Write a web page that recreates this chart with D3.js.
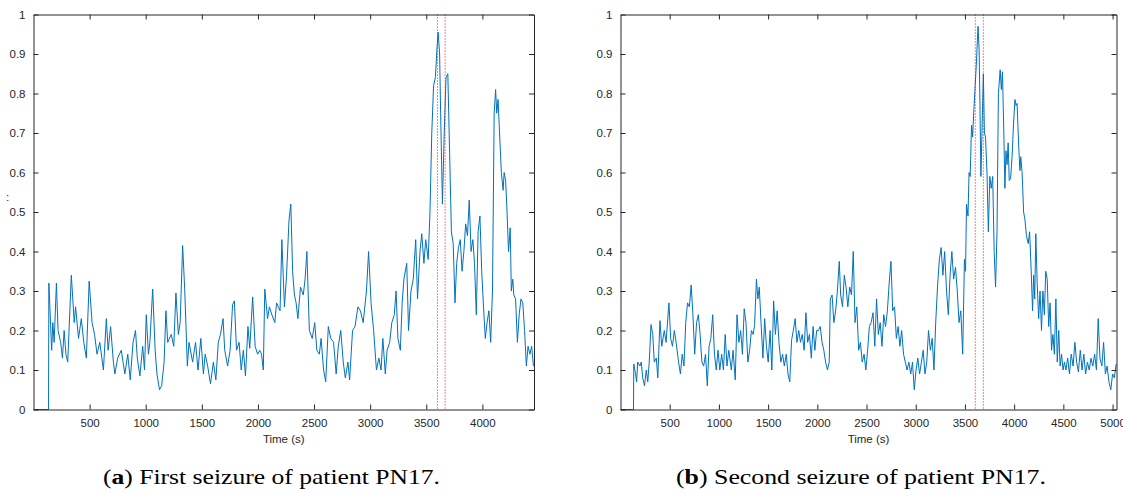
<!DOCTYPE html>
<html>
<head>
<meta charset="utf-8">
<script src="https://cdn.jsdelivr.net/npm/d3@7"></script>
<style>
  body { margin: 0; background: #fff; }
  .tick text { font-family: "Liberation Sans", Arial, sans-serif; font-size: 11.5px; fill: #262626; }
  .axisText { font-family: "Liberation Sans", Arial, sans-serif; font-size: 11.5px; fill: #262626; }
  .caption { font-family: "Liberation Serif", "DejaVu Serif", serif; font-size: 22px; fill: #000; }
</style>
</head>
<body>
<div id="chart"></div>
<script>
// Data: [time (s), value]
var seizure1 = [
  [0, 0], [134, 0], [137, 0.32], [162, 0.15], [172, 0.22], [184, 0.17], [204, 0.32], [219, 0.20],
  [242, 0.17], [258, 0.13], [273, 0.20], [289, 0.14], [305, 0.12], [337, 0.34], [363, 0.22], [375, 0.26],
  [401, 0.18], [426, 0.23], [448, 0.17], [471, 0.13], [496, 0.325], [522, 0.22], [544, 0.19], [566, 0.14],
  [591, 0.17], [623, 0.10], [649, 0.23], [665, 0.15], [687, 0.21], [712, 0.12], [725, 0.09], [750, 0.13],
  [782, 0.15], [814, 0.09], [840, 0.14], [862, 0.075], [887, 0.17], [909, 0.20], [925, 0.13], [948, 0.085],
  [973, 0.16], [989, 0.10], [1005, 0.24], [1024, 0.14], [1037, 0.17], [1062, 0.305], [1084, 0.15], [1100, 0.09],
  [1123, 0.05], [1142, 0.06], [1164, 0.12], [1180, 0.25], [1196, 0.17], [1227, 0.19], [1250, 0.16], [1269, 0.295],
  [1291, 0.19], [1307, 0.22], [1329, 0.415], [1348, 0.30], [1371, 0.11], [1386, 0.17], [1418, 0.12], [1444, 0.17],
  [1466, 0.10], [1491, 0.18], [1514, 0.09], [1530, 0.14], [1552, 0.11], [1577, 0.065], [1603, 0.12], [1625, 0.075],
  [1647, 0.17], [1666, 0.19], [1689, 0.23], [1704, 0.15], [1730, 0.11], [1752, 0.15], [1774, 0.265], [1790, 0.275],
  [1809, 0.15], [1832, 0.17], [1851, 0.10], [1870, 0.15], [1889, 0.085], [1911, 0.21], [1927, 0.155], [1953, 0.285],
  [1975, 0.16], [1997, 0.14], [2016, 0.15], [2032, 0.14], [2048, 0.10], [2061, 0.305], [2086, 0.23], [2102, 0.26],
  [2124, 0.24], [2150, 0.22], [2166, 0.27], [2181, 0.26], [2197, 0.25], [2213, 0.43], [2236, 0.26], [2255, 0.34],
  [2277, 0.48], [2293, 0.52], [2309, 0.35], [2325, 0.29], [2340, 0.27], [2356, 0.23], [2379, 0.31], [2404, 0.29],
  [2420, 0.33], [2436, 0.40], [2458, 0.20], [2484, 0.18], [2506, 0.22], [2525, 0.15], [2547, 0.14], [2563, 0.18],
  [2585, 0.10], [2604, 0.07], [2627, 0.21], [2649, 0.18], [2674, 0.17], [2697, 0.09], [2716, 0.16], [2738, 0.20],
  [2760, 0.12], [2779, 0.08], [2802, 0.12], [2817, 0.075], [2843, 0.20], [2865, 0.21], [2891, 0.26], [2913, 0.25],
  [2938, 0.22], [2967, 0.30], [2986, 0.40], [3008, 0.27], [3031, 0.20], [3056, 0.10], [3078, 0.13], [3097, 0.10],
  [3113, 0.18], [3135, 0.09], [3151, 0.15], [3174, 0.17], [3193, 0.22], [3215, 0.24], [3231, 0.30], [3247, 0.18],
  [3269, 0.15], [3285, 0.27], [3301, 0.33], [3326, 0.37], [3342, 0.20], [3364, 0.30], [3384, 0.33], [3406, 0.43],
  [3422, 0.28], [3444, 0.40], [3460, 0.445], [3479, 0.37], [3495, 0.43], [3517, 0.38], [3533, 0.50], [3549, 0.70],
  [3565, 0.82], [3581, 0.84], [3597, 0.92], [3606, 0.955], [3619, 0.90], [3628, 0.75], [3644, 0.52], [3660, 0.70],
  [3676, 0.84], [3692, 0.85], [3708, 0.65], [3724, 0.45], [3740, 0.42], [3756, 0.27], [3771, 0.37], [3787, 0.41],
  [3803, 0.43], [3819, 0.35], [3835, 0.40], [3851, 0.47], [3867, 0.44], [3883, 0.53], [3899, 0.40], [3915, 0.43],
  [3930, 0.37], [3946, 0.24], [3962, 0.45], [3978, 0.49], [3994, 0.35], [4010, 0.26], [4026, 0.18], [4042, 0.22],
  [4058, 0.25], [4074, 0.17], [4090, 0.30], [4105, 0.75], [4118, 0.81], [4128, 0.75], [4140, 0.785], [4153, 0.70],
  [4169, 0.60], [4185, 0.555], [4194, 0.60], [4207, 0.58], [4217, 0.52], [4233, 0.40], [4248, 0.46], [4258, 0.30],
  [4271, 0.33], [4280, 0.29], [4296, 0.28], [4312, 0.17], [4328, 0.24], [4344, 0.28], [4360, 0.27], [4376, 0.20],
  [4392, 0.11], [4407, 0.16], [4423, 0.14], [4439, 0.16], [4455, 0.11]
];

var seizure2 = [
  [0, 0], [132, 0], [135, 0.115], [153, 0.09], [164, 0.07], [175, 0.12], [197, 0.11], [211, 0.12],
  [226, 0.08], [244, 0.06], [262, 0.10], [277, 0.07], [292, 0.12], [310, 0.215], [328, 0.19], [343, 0.12],
  [364, 0.13], [379, 0.08], [401, 0.225], [419, 0.16], [445, 0.20], [463, 0.17], [492, 0.27], [510, 0.18],
  [528, 0.16], [547, 0.20], [565, 0.17], [590, 0.12], [609, 0.09], [627, 0.14], [645, 0.11], [663, 0.22],
  [681, 0.27], [700, 0.26], [718, 0.315], [736, 0.24], [754, 0.14], [773, 0.22], [791, 0.24], [809, 0.19],
  [827, 0.12], [845, 0.11], [864, 0.14], [882, 0.06], [900, 0.16], [918, 0.18], [937, 0.24], [955, 0.14],
  [973, 0.10], [991, 0.15], [1009, 0.10], [1028, 0.14], [1046, 0.10], [1064, 0.19], [1082, 0.11], [1100, 0.15],
  [1126, 0.10], [1144, 0.15], [1166, 0.075], [1184, 0.24], [1203, 0.17], [1221, 0.20], [1239, 0.14], [1257, 0.255],
  [1275, 0.22], [1294, 0.12], [1312, 0.15], [1330, 0.20], [1348, 0.19], [1363, 0.215], [1381, 0.33], [1396, 0.28],
  [1410, 0.31], [1428, 0.22], [1447, 0.13], [1465, 0.23], [1483, 0.16], [1501, 0.12], [1520, 0.20], [1538, 0.10],
  [1556, 0.275], [1574, 0.19], [1592, 0.25], [1610, 0.17], [1629, 0.12], [1647, 0.14], [1665, 0.11], [1684, 0.14],
  [1702, 0.09], [1720, 0.07], [1738, 0.175], [1756, 0.20], [1775, 0.23], [1793, 0.17], [1811, 0.20], [1829, 0.17],
  [1847, 0.19], [1866, 0.15], [1884, 0.245], [1902, 0.17], [1920, 0.19], [1939, 0.13], [1957, 0.21], [1975, 0.15],
  [1993, 0.20], [2011, 0.20], [2030, 0.21], [2048, 0.17], [2066, 0.15], [2084, 0.12], [2103, 0.10], [2121, 0.12],
  [2132, 0.28], [2150, 0.29], [2168, 0.22], [2186, 0.25], [2204, 0.30], [2223, 0.375], [2237, 0.29], [2256, 0.26],
  [2274, 0.34], [2292, 0.31], [2310, 0.26], [2329, 0.31], [2347, 0.29], [2365, 0.40], [2383, 0.22], [2401, 0.26],
  [2420, 0.15], [2438, 0.17], [2456, 0.12], [2475, 0.14], [2493, 0.10], [2511, 0.15], [2529, 0.21], [2547, 0.22],
  [2566, 0.245], [2584, 0.16], [2602, 0.28], [2620, 0.19], [2639, 0.22], [2657, 0.16], [2675, 0.24], [2693, 0.21],
  [2712, 0.25], [2730, 0.32], [2748, 0.375], [2766, 0.25], [2785, 0.26], [2803, 0.18], [2821, 0.21], [2839, 0.16],
  [2857, 0.20], [2876, 0.14], [2894, 0.12], [2912, 0.10], [2930, 0.12], [2949, 0.09], [2967, 0.12], [2985, 0.05],
  [3003, 0.10], [3021, 0.13], [3039, 0.09], [3058, 0.12], [3076, 0.15], [3094, 0.09], [3112, 0.12], [3130, 0.20],
  [3149, 0.15], [3167, 0.18], [3185, 0.10], [3203, 0.22], [3221, 0.31], [3240, 0.38], [3258, 0.41], [3276, 0.34],
  [3294, 0.40], [3313, 0.30], [3331, 0.24], [3349, 0.34], [3367, 0.40], [3385, 0.33], [3404, 0.36], [3422, 0.30],
  [3440, 0.22], [3458, 0.25], [3477, 0.14], [3495, 0.38], [3506, 0.35], [3516, 0.52], [3531, 0.49], [3542, 0.60],
  [3553, 0.59], [3567, 0.72], [3578, 0.69], [3589, 0.75], [3604, 0.82], [3615, 0.87], [3633, 0.97], [3644, 0.91],
  [3651, 0.80], [3662, 0.59], [3673, 0.70], [3687, 0.85], [3698, 0.70], [3709, 0.69], [3724, 0.60], [3738, 0.45],
  [3753, 0.59], [3767, 0.56], [3782, 0.59], [3797, 0.40], [3811, 0.31], [3826, 0.45], [3840, 0.80], [3858, 0.86],
  [3870, 0.81], [3881, 0.855], [3895, 0.70], [3906, 0.56], [3917, 0.655], [3928, 0.62], [3939, 0.675], [3950, 0.58],
  [3964, 0.585], [3979, 0.64], [3993, 0.72], [4008, 0.785], [4019, 0.77], [4030, 0.775], [4041, 0.70], [4052, 0.635],
  [4059, 0.605], [4067, 0.64], [4081, 0.60], [4096, 0.50], [4110, 0.48], [4125, 0.44], [4143, 0.42], [4157, 0.45],
  [4172, 0.36], [4187, 0.25], [4198, 0.34], [4209, 0.28], [4220, 0.445], [4234, 0.32], [4249, 0.23], [4263, 0.30],
  [4278, 0.20], [4292, 0.30], [4307, 0.24], [4321, 0.35], [4336, 0.33], [4351, 0.21], [4365, 0.27], [4380, 0.15],
  [4394, 0.19], [4409, 0.14], [4424, 0.28], [4438, 0.12], [4453, 0.20], [4467, 0.11], [4482, 0.14], [4497, 0.10],
  [4511, 0.12], [4526, 0.10], [4544, 0.13], [4562, 0.09], [4580, 0.14], [4599, 0.11], [4617, 0.17], [4635, 0.12],
  [4653, 0.095], [4672, 0.15], [4690, 0.10], [4708, 0.14], [4726, 0.09], [4745, 0.12], [4763, 0.10], [4781, 0.13],
  [4799, 0.11], [4818, 0.14], [4836, 0.10], [4854, 0.23], [4872, 0.13], [4891, 0.11], [4909, 0.17], [4927, 0.09],
  [4945, 0.11], [4963, 0.07], [4982, 0.05], [5000, 0.09], [5018, 0.08], [5036, 0.115]
];

// Seizure onset / offset markers (s)
var marks1 = [3600, 3668];
var marks2 = [3605, 3687];

// Tick values
var yTicks = [0, 0.1, 0.2, 0.3, 0.4, 0.5, 0.6, 0.7, 0.8, 0.9, 1];
var xTicks1 = [500, 1000, 1500, 2000, 2500, 3000, 3500, 4000];
var xTicks2 = [500, 1000, 1500, 2000, 2500, 3000, 3500, 4000, 4500, 5000];

var svgWidth = 1123;
var svgHeight = 492;

var svg = d3.select('#chart')
  .append('svg')
  .attr('width', svgWidth)
  .attr('height', svgHeight);

function drawPanel(opts) {
  var w = opts.right - opts.left;
  var h = opts.bottom - opts.top;
  var tickLen = 5;

  var g = svg.append('g')
    .attr('transform', `translate(${opts.left}, ${opts.top})`);

  var xScale = d3.scaleLinear().domain([0, opts.xMax]).range([0, w]);
  var yScale = d3.scaleLinear().domain([0, 1]).range([h, 0]);

  // line
  var line = d3.line()
    .x(function(d) { return xScale(d[0]); })
    .y(function(d) { return yScale(d[1]); });

  g.append('path')
    .datum(opts.data)
    .attr('d', line)
    .attr('fill', 'none')
    .attr('stroke', '#0072BD')
    .attr('stroke-width', 1)
    .attr('stroke-linejoin', 'round');

  // dotted seizure markers
  g.selectAll('.mark')
    .data(opts.marks)
    .enter()
    .append('line')
    .attr('x1', function(d) { return xScale(d); })
    .attr('x2', function(d) { return xScale(d); })
    .attr('y1', 0)
    .attr('y2', h)
    .attr('stroke', '#ff0000')
    .attr('stroke-width', 1)
    .attr('stroke-dasharray', '1,2');

  // axes, ticks pointing inward (matlab style)
  var bottomAxis = d3.axisBottom(xScale).tickValues(opts.xTicks).tickSize(-tickLen).tickPadding(9)
    .tickSizeOuter(0).tickFormat(d3.format('d'));
  var topAxis = d3.axisTop(xScale).tickValues(opts.xTicks).tickSize(-tickLen).tickFormat('').tickSizeOuter(0);
  var leftAxis = d3.axisLeft(yScale).tickValues(yTicks).tickSize(-tickLen).tickPadding(8).tickSizeOuter(0)
    .tickFormat(function(d) { return d3.format('~g')(d); });
  var rightAxis = d3.axisRight(yScale).tickValues(yTicks).tickSize(-tickLen).tickFormat('').tickSizeOuter(0);

  g.append('g').attr('transform', `translate(0, ${h})`).call(bottomAxis);
  g.append('g').call(topAxis);
  g.append('g').call(leftAxis);
  g.append('g').attr('transform', `translate(${w}, 0)`).call(rightAxis);

  g.selectAll('.domain, .tick line')
    .attr('stroke', '#262626')
    .attr('stroke-width', 1);

  // x label
  g.append('text')
    .attr('class', 'axisText')
    .attr('x', w / 2)
    .attr('y', h + 33)
    .style('text-anchor', 'middle')
    .text('Time (s)');

  // caption
  var cap = svg.append('text')
    .attr('class', 'caption')
    .attr('x', opts.capX)
    .attr('y', 484)
    .attr('textLength', opts.capWidth)
    .attr('lengthAdjust', 'spacingAndGlyphs');
  cap.append('tspan').text('(');
  cap.append('tspan').style('font-weight', 'bold').text(opts.capLetter);
  cap.append('tspan').text(') ' + opts.capText);

  return g;
}

drawPanel({
  left: 33.5, right: 534, top: 14.5, bottom: 409.5,
  xMax: 4460, data: seizure1, marks: marks1, xTicks: xTicks1,
  capX: 103, capWidth: 337, capLetter: 'a', capText: 'First seizure of patient PN17.'
});

drawPanel({
  left: 620.5, right: 1116.5, top: 14.5, bottom: 409.5,
  xMax: 5040, data: seizure2, marks: marks2, xTicks: xTicks2,
  capX: 676, capWidth: 370, capLetter: 'b', capText: 'Second seizure of patient PN17.'
});

// stray y-label fragment at far left
svg.append('text')
  .attr('class', 'axisText')
  .attr('x', 6)
  .attr('y', 201)
  .text(':');
</script>
</body>
</html>
